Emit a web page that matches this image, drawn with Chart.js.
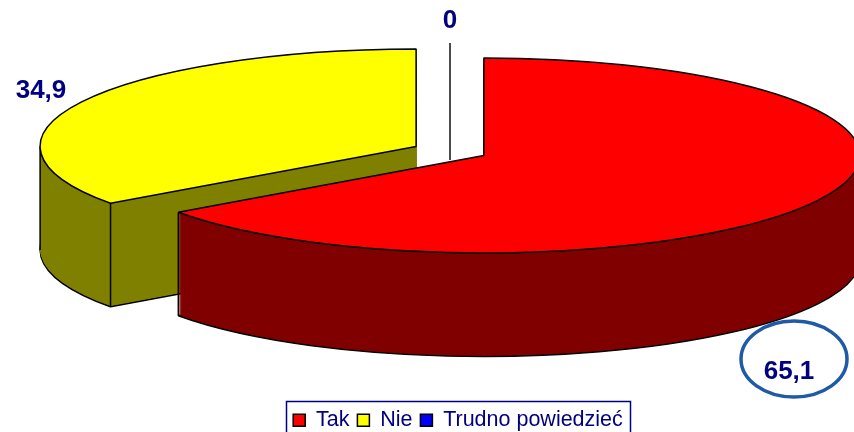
<!DOCTYPE html>
<html>
<head>
<meta charset="utf-8">
<style>
  html, body { margin: 0; padding: 0; background: #fff; overflow: hidden; }
  canvas { display: block; }
</style>
<script src="https://cdn.jsdelivr.net/npm/chart.js@4"></script>
</head>
<body>
<canvas id="pie" width="854" height="432"></canvas>
<script>
const categories = ['Tak', 'Nie', 'Trudno powiedzieć'];
const values = [65.1, 34.9, 0];
const topColors = ['#ff0000', '#ffff00', '#0000ff'];
const sideColors = ['#800000', '#808000', '#000080'];

const NAVY = '#000080';
const RADIUS = 150;     // pie radius before the tilt is applied
const BURST = 15.2;     // how far each slice sits from the centre
const CENTER = { x: 450, y: 151 };
const RX = 376, RY = 97.5, DEPTH = 103.5;

// the arc's own offset option also grows its radius, so the burst is done here
function tilt(chart, arc, depth) {
  const a = RX / RADIUS, d = RY / RADIUS;
  const mid = (arc.startAngle + arc.endAngle) / 2;
  chart.ctx.setTransform(
    a, 0, 0, d,
    CENTER.x + (Math.cos(mid) * BURST - arc.x) * a,
    CENTER.y + depth + (Math.sin(mid) * BURST - arc.y) * d
  );
}

// point on the tilted rim of a slice, in canvas pixels
function rimPoint(arc, angle) {
  const mid = (arc.startAngle + arc.endAngle) / 2;
  const px = Math.cos(mid) * BURST + Math.cos(angle) * RADIUS;
  const py = Math.sin(mid) * BURST + Math.sin(angle) * RADIUS;
  return { x: CENTER.x + px * RX / RADIUS, y: CENTER.y + py * RY / RADIUS };
}

function edge(ctx, p) {
  ctx.beginPath();
  ctx.moveTo(p.x, p.y);
  ctx.lineTo(p.x, p.y + DEPTH);
  ctx.stroke();
}

const pie3d = {
  id: 'pie3d',
  afterLayout(chart) {
    // legend sits lower than the library would put it
    chart.legend.top += 9;
    chart.legend.bottom += 9;
  },
  beforeDatasetsDraw(chart) {
    const ctx = chart.ctx;
    const arcs = chart.getDatasetMeta(0).data;

    // keep the outline even under the squashed transform
    const stroke = ctx.stroke;
    ctx.stroke = function () {
      ctx.save();
      ctx.setTransform(1, 0, 0, 1, 0, 0);
      stroke.call(ctx);
      ctx.restore();
    };

    ctx.save();
    [1, 0].forEach(i => {
      const arc = arcs[i];
      const opts = arc.options;
      const side = Object.assign({}, opts, { backgroundColor: sideColors[i] });
      const wall = Object.assign({}, opts, { backgroundColor: sideColors[i], borderWidth: 0 });

      tilt(chart, arc, DEPTH);
      arc.options = side;
      arc.draw(ctx);

      arc.options = wall;
      for (let depth = DEPTH - 1; depth > 0; depth--) {
        tilt(chart, arc, depth);
        arc.draw(ctx);
      }

      ctx.setTransform(1, 0, 0, 1, 0, 0);
      ctx.strokeStyle = '#000';
      ctx.lineWidth = 1.5;
      edge(ctx, rimPoint(arc, i === 0 ? arc.endAngle : arc.startAngle));
      if (i === 1) edge(ctx, rimPoint(arc, Math.PI));

      tilt(chart, arc, 0);
      arc.options = opts;
      arc.draw(ctx);
    });
    ctx.restore();

    delete ctx.stroke;
    return false;
  },
  afterDraw(chart) {
    const ctx = chart.ctx;
    ctx.save();

    ctx.strokeStyle = '#111';
    ctx.lineWidth = 1.5;
    ctx.beginPath();
    ctx.moveTo(450, 43);
    ctx.lineTo(450, 160);
    ctx.stroke();

    ctx.strokeStyle = '#1f5aa6';
    ctx.lineWidth = 3.5;
    ctx.beginPath();
    ctx.ellipse(794, 359, 53, 38, 0, 0, Math.PI * 2);
    ctx.stroke();

    ctx.strokeStyle = NAVY;
    ctx.lineWidth = 1.5;
    ctx.strokeRect(286.5, 401.5, 344, 40);

    ctx.fillStyle = NAVY;
    ctx.font = 'bold 26px "Liberation Sans"';
    ctx.textAlign = 'center';
    ctx.textBaseline = 'middle';
    const spots = [[789, 372], [41, 91], [450, 21]];
    values.forEach((v, i) => {
      ctx.fillText(String(v).replace('.', ','), spots[i][0], spots[i][1]);
    });
    ctx.restore();
  },
};

const chart = new Chart(document.getElementById('pie'), {
  type: 'pie',
  data: {
    labels: categories,
    datasets: [{
      data: values,
      backgroundColor: topColors,
      borderColor: '#000',
      borderWidth: 1.5,
      radius: RADIUS,
    }],
  },
  options: {
    responsive: false,
    animation: false,
    events: [],
    radius: RADIUS,
    layout: { padding: { left: 62 } },
    plugins: {
      tooltip: { enabled: false },
      legend: {
        position: 'bottom',
        labels: {
          color: NAVY,
          font: { family: '"Liberation Sans"', size: 21.5 },
          boxWidth: 12,
          boxHeight: 12,
          padding: 8,
        },
      },
    },
  },
  plugins: [pie3d],
});
</script>
</body>
</html>
